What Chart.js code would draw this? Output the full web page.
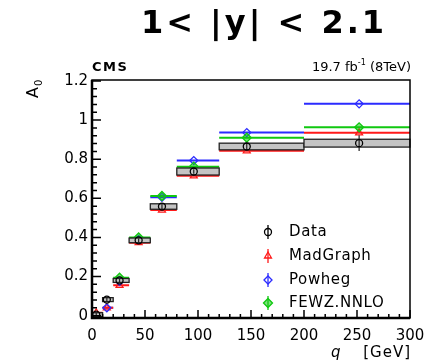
<!DOCTYPE html>
<html>
<head>
<meta charset="utf-8">
<script src="https://cdn.jsdelivr.net/npm/chart.js@4.4.1/dist/chart.umd.min.js"></script>
<style>
  html, body { margin: 0; padding: 0; background: #ffffff; }
  #wrap { width: 428px; height: 362px; position: relative; }
</style>
</head>
<body>
<div id="wrap"><canvas id="c" width="428" height="362"></canvas></div>
<script>
// q_T bins (GeV) and mean q_T used to place the markers
const binLo   = [0, 10, 20, 35, 55, 80, 120, 200];
const binHi   = [10, 20, 35, 55, 80, 120, 200, 300];
const markerQ = [4, 14, 26, 44, 66, 96, 146, 252];

// A0 measured, with statistical error and systematic band half-height
const dataA0   = [0.005, 0.082, 0.180, 0.385, 0.558, 0.737, 0.865, 0.882];
const dataStat = [0.010, 0.010, 0.010, 0.010, 0.012, 0.012, 0.015, 0.040];
const dataSyst = [0.010, 0.010, 0.010, 0.012, 0.014, 0.018, 0.017, 0.020];

// predictions
const madgraphA0 = [0.015, 0.040, 0.155, 0.373, 0.540, 0.715, 0.843, 0.935];
const powhegA0   = [-0.010, 0.040, 0.175, 0.390, 0.605, 0.793, 0.936, 1.083];
const fewzA0     = [null, null, 0.194, 0.400, 0.612, 0.762, 0.910, 0.963];

const xTickValues = [0, 50, 100, 150, 200, 250, 300];
const yTickValues = [0, 0.2, 0.4, 0.6, 0.8, 1.0, 1.2];

const legendLabels = ['Data', 'MadGraph', 'Powheg', 'FEWZ.NNLO'];

const RED = '#ff1a1a', BLUE = '#2b2bff', GREEN = '#10c810';

// horizontal segment per bin, broken between bins
function binSegments(vals) {
  const pts = [];
  vals.forEach((v, i) => {
    if (v === null) return;
    pts.push({ x: binLo[i], y: v }, { x: binHi[i], y: v }, { x: binHi[i], y: null });
  });
  return pts;
}
function markers(vals) {
  const pts = [];
  vals.forEach((v, i) => { if (v !== null) pts.push({ x: markerQ[i], y: v }); });
  return pts;
}

const lineDs = (vals, color) => ({
  type: 'line', data: binSegments(vals), borderColor: color, borderWidth: 2,
  pointRadius: 0, spanGaps: false, fill: false, order: 10, tension: 0
});
const markDs = (vals, color, style, r, bg, ord, id) => ({
  type: 'scatter', data: markers(vals), borderColor: color, backgroundColor: bg,
  pointStyle: style, pointRadius: r, borderWidth: 1.3, order: ord, id: id
});

// boxes, error bars, inner ticks, frame and texts
const decor = {
  id: 'decor',
  beforeDatasetDraw(chart, args) {
    const ds = chart.data.datasets[args.index];
    if (ds.id !== 'data') return;
    const { ctx, scales: { x, y } } = chart;
    ctx.save();
    dataA0.forEach((v, i) => {
      const x0 = x.getPixelForValue(binLo[i]), x1 = x.getPixelForValue(binHi[i]);
      const y0 = y.getPixelForValue(v + dataSyst[i]), y1 = y.getPixelForValue(v - dataSyst[i]);
      ctx.fillStyle = '#c4c4c4';
      ctx.fillRect(x0, y0, x1 - x0, y1 - y0);
      ctx.strokeStyle = '#222';
      ctx.lineWidth = 1.3;
      ctx.strokeRect(x0, y0, x1 - x0, y1 - y0);
      const xm = x.getPixelForValue(markerQ[i]);
      ctx.beginPath();
      ctx.moveTo(xm, y.getPixelForValue(v + dataStat[i]));
      ctx.lineTo(xm, y.getPixelForValue(v - dataStat[i]));
      ctx.lineWidth = 1.2;
      ctx.stroke();
    });
    ctx.restore();
  },
  afterDraw(chart) {
    const { ctx, chartArea: a, scales: { x, y } } = chart;
    ctx.save();
    ctx.strokeStyle = '#000';
    // inner tick marks
    ctx.lineWidth = 1.5;
    ctx.beginPath();
    for (let q = 0; q <= 300; q += 10) {
      const px = x.getPixelForValue(q);
      const len = (q % 50 === 0) ? 8 : 4;
      ctx.moveTo(px, a.bottom); ctx.lineTo(px, a.bottom - len);
    }
    for (let k = 0; k <= 30; k++) {
      const v = k * 0.04;
      const py = y.getPixelForValue(v);
      const len = (k % 5 === 0) ? 9 : 5;
      ctx.moveTo(a.left, py); ctx.lineTo(a.left + len, py);
    }
    ctx.stroke();
    // frame
    ctx.lineWidth = 1.5;
    ctx.strokeRect(a.left, a.top, a.right - a.left, a.bottom - a.top);
    ctx.lineWidth = 2.5;
    ctx.beginPath();
    ctx.moveTo(a.left, a.top); ctx.lineTo(a.left, a.bottom); ctx.lineTo(a.right, a.bottom);
    ctx.stroke();

    ctx.fillStyle = '#000';
    ctx.textBaseline = 'alphabetic';
    // title
    ctx.font = 'bold 32px "DejaVu Sans"';
    ctx.letterSpacing = '3px';
    ctx.textAlign = 'center';
    ctx.fillText('1< |y| < 2.1', 264, 33);
    // header texts
    ctx.letterSpacing = '1.5px';
    ctx.font = 'bold 13px "DejaVu Sans"';
    ctx.textAlign = 'left';
    ctx.fillText('CMS', 92, 71);
    ctx.letterSpacing = '0px';
    ctx.font = '13px "DejaVu Sans"';
    ctx.textAlign = 'right';
    const tail = ' (8TeV)';
    const wTail = ctx.measureText(tail).width;
    ctx.fillText(tail, 411, 71);
    ctx.font = '8px "DejaVu Sans"';
    const wSup = ctx.measureText('-1').width;
    ctx.fillText('-1', 411 - wTail, 65);
    ctx.font = '13px "DejaVu Sans"';
    ctx.fillText('19.7 fb', 411 - wTail - wSup, 71);

    // y title, rotated
    ctx.save();
    ctx.translate(38, 98);
    ctx.rotate(-Math.PI / 2);
    ctx.textAlign = 'left';
    ctx.font = '16px "DejaVu Sans"';
    ctx.fillText('A', 0, 0);
    const wA = ctx.measureText('A').width;
    ctx.font = '10px "DejaVu Sans"';
    ctx.fillText('0', wA + 1, 4);
    ctx.restore();

    // x title
    ctx.font = 'italic 15px "DejaVu Sans"';
    ctx.textAlign = 'left';
    ctx.fillText('q', 331, 357);
    ctx.font = '15px "DejaVu Sans"';
    ctx.letterSpacing = '1px';
    ctx.textAlign = 'right';
    ctx.fillText('[GeV]', 411, 357);
    ctx.letterSpacing = '0px';

    // legend
    const rows = [232, 256, 280, 303];
    const styles = [
      { c: '#000', s: 'circle', r: 3.5, bg: 'rgba(0,0,0,0)' },
      { c: RED, s: 'triangle', r: 4, bg: 'rgba(0,0,0,0)' },
      { c: BLUE, s: 'rectRot', r: 4, bg: 'rgba(0,0,0,0)' },
      { c: GREEN, s: 'rectRot', r: 4.5, bg: 'rgba(16,200,16,0.55)' }
    ];
    ctx.font = '15px "DejaVu Sans"';
    ctx.letterSpacing = '0.6px';
    ctx.textAlign = 'left';
    ctx.textBaseline = 'middle';
    rows.forEach((ry, i) => {
      const st = styles[i];
      ctx.strokeStyle = st.c; ctx.fillStyle = st.bg; ctx.lineWidth = 1.3;
      ctx.beginPath(); ctx.moveTo(268, ry - 7); ctx.lineTo(268, ry + 7); ctx.stroke();
      Chart.helpers.drawPoint(ctx, { pointStyle: st.s, radius: st.r, rotation: 0, borderWidth: 1.3 }, 268, ry);
      ctx.fillStyle = '#000';
      ctx.fillText(legendLabels[i], 289, ry);
    });
    ctx.restore();
  }
};

new Chart(document.getElementById('c'), {
  type: 'scatter',
  data: {
    datasets: [
      lineDs(madgraphA0, RED),
      lineDs(fewzA0, GREEN),
      lineDs(powhegA0, BLUE),
      markDs(madgraphA0, RED, 'triangle', 4, 'rgba(0,0,0,0)', 3, 'mg'),
      markDs(powhegA0, BLUE, 'rectRot', 4, 'rgba(0,0,0,0)', 2, 'pw'),
      markDs(fewzA0, GREEN, 'rectRot', 4.5, 'rgba(16,200,16,0.55)', 1, 'fewz'),
      markDs(dataA0, '#000', 'circle', 3.5, 'rgba(0,0,0,0)', 0, 'data')
    ]
  },
  options: {
    responsive: false,
    animation: false,
    layout: { padding: { left: 0, right: 18, top: 80, bottom: 0 } },
    plugins: { legend: { display: false }, tooltip: { enabled: false }, title: { display: false } },
    scales: {
      x: {
        type: 'linear', min: 0, max: 300,
        afterFit(s) { s.height = 44; s.paddingLeft = 0; s.paddingRight = 0; },
        afterBuildTicks(s) { s.ticks = xTickValues.map(v => ({ value: v })); },
        grid: { display: false, drawTicks: false },
        border: { display: false },
        ticks: { padding: 9, color: '#000', font: { family: 'DejaVu Sans', size: 15 }, maxRotation: 0, autoSkip: false }
      },
      y: {
        type: 'linear', min: -0.012, max: 1.205,
        afterFit(s) { s.width = 92; s.paddingTop = 0; s.paddingBottom = 0; },
        afterBuildTicks(s) { s.ticks = yTickValues.map(v => ({ value: v })); },
        grid: { display: false, drawTicks: false },
        border: { display: false },
        ticks: { padding: 4, color: '#000', font: { family: 'DejaVu Sans', size: 15 },
                 callback: v => String(Math.round(v * 10) / 10) }
      }
    }
  },
  plugins: [decor]
});
</script>
</body>
</html>
